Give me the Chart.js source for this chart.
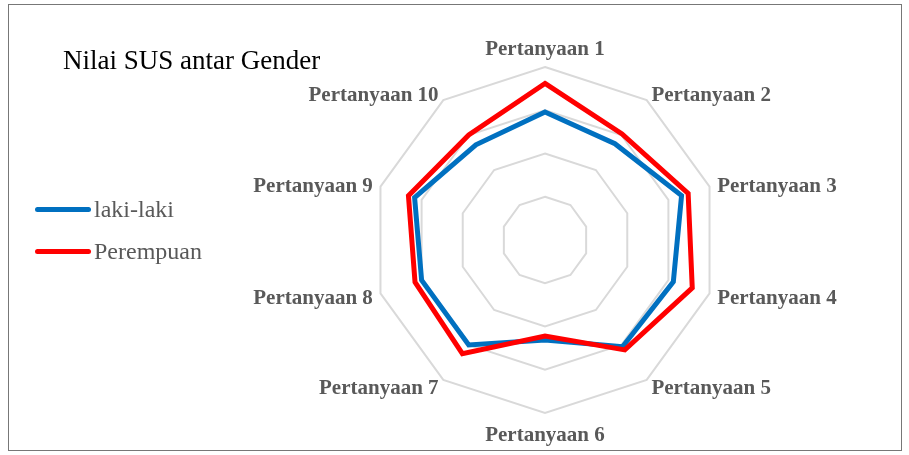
<!DOCTYPE html>
<html>
<head>
<meta charset="utf-8">
<script src="https://cdn.jsdelivr.net/npm/chart.js@4.4.0/dist/chart.umd.min.js"></script>
<style>
  body { margin: 0; background: #fff; }
  #wrap { position: relative; width: 909px; height: 455px; overflow: hidden; }
  #frame { position: absolute; left: 8px; top: 4px; width: 894px; height: 447px; border: 1px solid #777; box-sizing: border-box; }
  #chart { position: absolute; left: 0; top: 0; }
  #title { position: absolute; left: 63px; top: 45px; font: 27px "Liberation Serif", serif; color: #000; white-space: nowrap; }
  #legend { position: absolute; left: 35px; top: 188px; font: 24px "Liberation Serif", serif; color: #595959; }
  .item { height: 42px; display: flex; align-items: center; }
  .swatch { width: 56px; height: 5px; border-radius: 3px; margin-right: 3px; }
</style>
</head>
<body>
<div id="wrap">
  <div id="frame"></div>
  <canvas id="chart" width="909" height="455"></canvas>
  <div id="title">Nilai SUS antar Gender</div>
  <div id="legend"></div>
</div>
<script>
// === Data ===
const labels = ["Pertanyaan 1", "Pertanyaan 2", "Pertanyaan 3", "Pertanyaan 4", "Pertanyaan 5",
                "Pertanyaan 6", "Pertanyaan 7", "Pertanyaan 8", "Pertanyaan 9", "Pertanyaan 10"];
const lakiLaki  = [2.96, 2.75, 3.32, 3.12, 3.05, 2.31, 3.00, 3.00, 3.17, 2.72];
const perempuan = [3.62, 3.03, 3.48, 3.58, 3.14, 2.22, 3.25, 3.16, 3.32, 3.00];

const series = [
  { label: "laki-laki", data: lakiLaki, color: "#0070C0", order: 1 },
  { label: "Perempuan", data: perempuan, color: "#FF0000", order: 0 }
];

// labels drawn like Excel: just outside the outer ring, vertically centred
const axisLabels = {
  id: "axisLabels",
  afterDraw(chart) {
    const r = chart.scales.r;
    const ctx = chart.ctx;
    ctx.save();
    ctx.font = "bold 21px 'Liberation Serif'";
    ctx.fillStyle = "#595959";
    ctx.textBaseline = "middle";
    labels.forEach((txt, i) => {
      const p = r.getPointPosition(i, r.drawingArea + 8);
      const dx = p.x - r.xCenter;
      let y = p.y + 2.5;
      if (Math.abs(dx) < 1) {
        ctx.textAlign = "center";
        y += (p.y < r.yCenter ? -12 : 12);
      } else {
        ctx.textAlign = dx > 0 ? "left" : "right";
      }
      ctx.fillText(txt, p.x, y);
    });
    ctx.restore();
  }
};

new Chart(document.getElementById("chart"), {
  type: "radar",
  data: {
    labels: labels,
    datasets: series.map(s => ({
      label: s.label,
      data: s.data,
      borderColor: s.color,
      backgroundColor: "transparent",
      borderWidth: 5,
      pointRadius: 0,
      fill: false,
      order: s.order
    }))
  },
  options: {
    responsive: false,
    animation: false,
    layout: { padding: { left: 372, right: 191, top: 67, bottom: 42 } },
    plugins: { legend: { display: false }, tooltip: { enabled: false } },
    scales: {
      r: {
        min: 0,
        max: 4,
        ticks: { stepSize: 1, display: false },
        angleLines: { display: false },
        grid: { color: "#d9d9d9", lineWidth: 2 },
        pointLabels: { display: false }
      }
    }
  },
  plugins: [axisLabels]
});

// === Legend (HTML) ===
const legend = document.getElementById("legend");
series.forEach(s => {
  const row = document.createElement("div");
  row.className = "item";
  row.innerHTML = `<span class="swatch" style="background:${s.color}"></span>${s.label}`;
  legend.appendChild(row);
});
</script>
</body>
</html>
